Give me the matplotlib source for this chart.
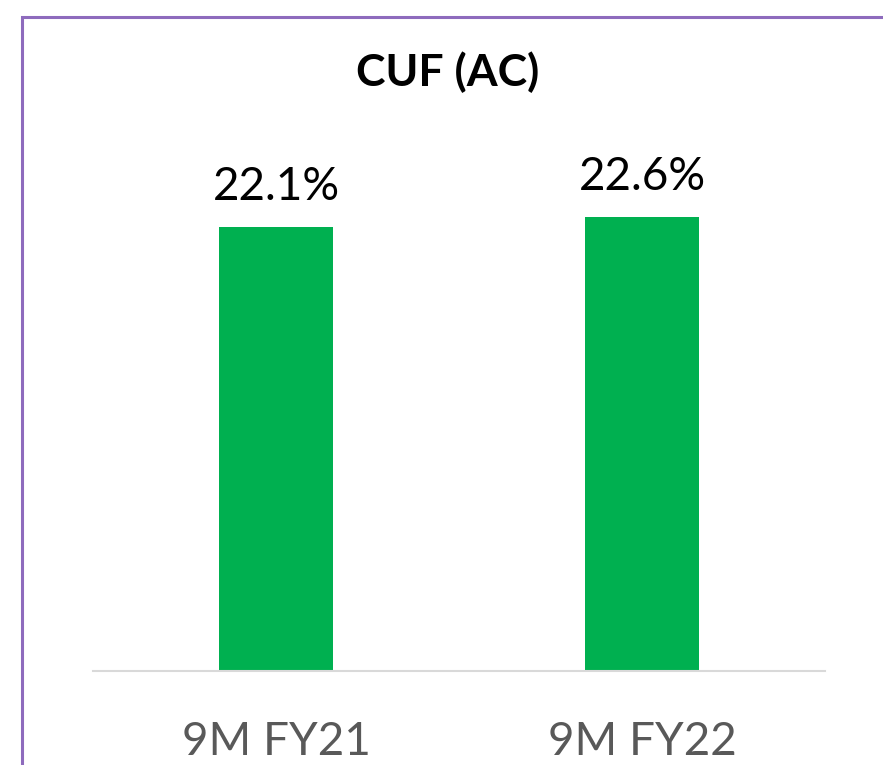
import matplotlib
matplotlib.use("Agg")
import matplotlib.pyplot as plt
from matplotlib.patches import Rectangle

categories = ["9M FY21", "9M FY22"]
cuf_values = [22.1, 22.6]
value_labels = ["22.1%", "22.6%"]
title = "CUF (AC)"

plt.rcParams["font.family"] = ["Lato", "DejaVu Sans"]

W, H = 883, 765
fig = plt.figure(figsize=(W / 100, H / 100), dpi=100)

# outer frame (runs off right and bottom edges)
fig.patches.append(Rectangle((22 / W, -0.1), 1.2, 1 - 17 / H + 0.1,
                             transform=fig.transFigure, fill=False,
                             edgecolor="#8e6bbd", linewidth=2.2))

# axes: baseline at y=671 px, x from 93 to 825 px
ax_top = 100
ax = fig.add_axes([93 / W, (H - 671) / H, (825 - 93) / W, (671 - ax_top) / H])
x = range(len(categories))
bars = ax.bar(x, cuf_values, width=0.314, color="#00b050")
ax.set_xlim(-0.5, 1.5)
ax.set_ylim(0, (671 - ax_top) / 20.09)

for b, lab in zip(bars, value_labels):
    ax.annotate(lab, (b.get_x() + b.get_width() / 2, b.get_height()),
                xytext=(0, 14), textcoords="offset points",
                ha="center", va="bottom", fontsize=33, color="black")

ax.set_xticks(list(x))
ax.set_xticklabels(categories, fontsize=33, color="#595959")
ax.tick_params(axis="x", length=0, pad=36)
ax.set_yticks([])
for s in ["top", "right", "left"]:
    ax.spines[s].set_visible(False)
ax.spines["bottom"].set_color("#d9d9d9")
ax.spines["bottom"].set_linewidth(1.5)

fig.text(448 / W, 1 - 72 / H, title, ha="center", va="center",
         fontsize=32, fontweight="bold", color="black")

fig.savefig("out.png", dpi=100)
